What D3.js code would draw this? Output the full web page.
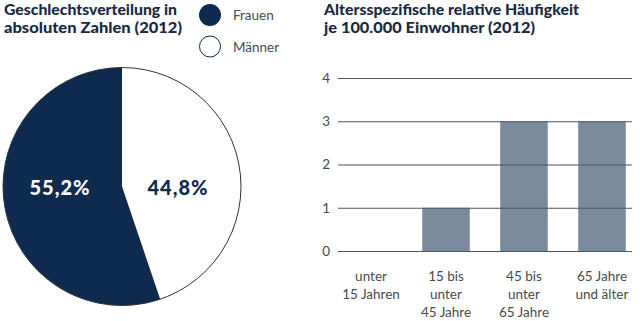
<!DOCTYPE html>
<html><head><meta charset="utf-8">
<script src="https://cdn.jsdelivr.net/npm/d3@7"></script>
<style>body{margin:0;background:#fff}svg{display:block}text{font-family:Lato,"Open Sans",sans-serif}</style>
</head><body>
<svg id="c" width="640" height="321"></svg>
<script>
const pieLabels = ["Frauen", "Männer"];
const pieValues = [55.2, 44.8];
const pieText = ["55,2%", "44,8%"];
const ageCategories = [["unter","15 Jahren"],["15 bis","unter","45 Jahre"],["45 bis","unter","65 Jahre"],["65 Jahre","und älter"]];
const ageValues = [0, 1, 3, 3];
const yTicks = [0, 1, 2, 3, 4];

const navy = "#0e2a4d", barCol = "#7a8b9e", grey = "#4a4a4a", titleCol = "#1b2a44";
const svg = d3.select("#c");

function fit(sel, w){ sel.each(function(){ const l=this.getComputedTextLength(); if(l>0){ d3.select(this).attr("textLength", w).attr("lengthAdjust","spacingAndGlyphs"); } }); }

// Titles
const t1 = svg.append("g").attr("fill", titleCol).attr("font-weight", 900).attr("font-size", 15);
t1.append("text").attr("x", 4).attr("y", 14.5).text("Geschlechtsverteilung in").call(fit, 173);
t1.append("text").attr("x", 4).attr("y", 33).text("absoluten Zahlen (2012)").call(fit, 178);
t1.append("text").attr("x", 324).attr("y", 14.5).text("Altersspezifische relative Häufigkeit").call(fit, 255);
t1.append("text").attr("x", 324).attr("y", 33).text("je 100.000 Einwohner (2012)").call(fit, 211);

// Legend
const leg = svg.append("g");
pieLabels.forEach((l, i) => {
  const cy = 15 + i * 31.5;
  leg.append("circle").attr("cx", 210).attr("cy", cy).attr("r", i === 0 ? 11 : 10.5)
    .attr("fill", i === 0 ? navy : "#fff").attr("stroke", navy).attr("stroke-width", i === 0 ? 0 : 1);
  leg.append("text").attr("x", 233).attr("y", cy + 5).attr("font-size", 13.5).attr("fill", grey).text(l);
});

// Pie
const cx = 122, cy = 186.5, R = 119;
const pie = d3.pie().sort(null).value(d => d);
const arcs = pie([pieValues[1], pieValues[0]]);
const arc = d3.arc().innerRadius(0).outerRadius(R);
const pg = svg.append("g").attr("transform", `translate(${cx},${cy})`);
pg.selectAll("path").data(arcs).join("path").attr("d", arc)
  .attr("fill", (d, i) => i === 0 ? "#fff" : navy);
pg.append("circle").attr("r", R).attr("fill", "none").attr("stroke", "#333").attr("stroke-width", 1);
pg.append("text").attr("x", 178 - cx).attr("y", 195 - cy).attr("text-anchor", "middle")
  .attr("font-size", 20).attr("font-weight", 900).attr("fill", navy).attr("letter-spacing", 1).text(pieText[1]);
pg.append("text").attr("x", 60 - cx).attr("y", 195 - cy).attr("text-anchor", "middle")
  .attr("font-size", 20).attr("font-weight", 900).attr("fill", "#fff").attr("letter-spacing", 1).text(pieText[0]);

// Bar chart
const x = d3.scaleBand().domain(d3.range(ageValues.length)).range([338, 632]).paddingInner(0.39).paddingOuter(0.08);
const y = d3.scaleLinear().domain([0, 4]).range([251, 78]);
svg.append("g").selectAll("rect").data(ageValues).join("rect")
  .attr("x", (d, i) => x(i)).attr("width", x.bandwidth())
  .attr("y", d => y(d)).attr("height", d => y(0) - y(d)).attr("fill", barCol);
const ax = svg.append("g").attr("transform", "translate(338,0)")
  .call(d3.axisLeft(y).tickValues(yTicks).tickFormat(d3.format("d")).tickSize(-(632 - 338)).tickPadding(8));
ax.select(".domain").remove();
ax.selectAll(".tick line").attr("stroke", "#4f5563").attr("stroke-width", 1.2);
ax.selectAll(".tick text").attr("font-size", 13.5).attr("fill", grey).attr("font-family", "Lato, sans-serif");

const cl = svg.append("g").attr("fill", grey).attr("font-size", 13.5).attr("text-anchor", "middle");
ageCategories.forEach((lines, i) => {
  const cxl = x(i) + x.bandwidth() / 2 + (i === 0 ? 3 : 0);
  const t = cl.append("text").attr("x", cxl).attr("y", 281);
  lines.forEach((ln, j) => t.append("tspan").attr("x", cxl).attr("dy", j ? 18 : 0).text(ln));
});
</script>
</body></html>
